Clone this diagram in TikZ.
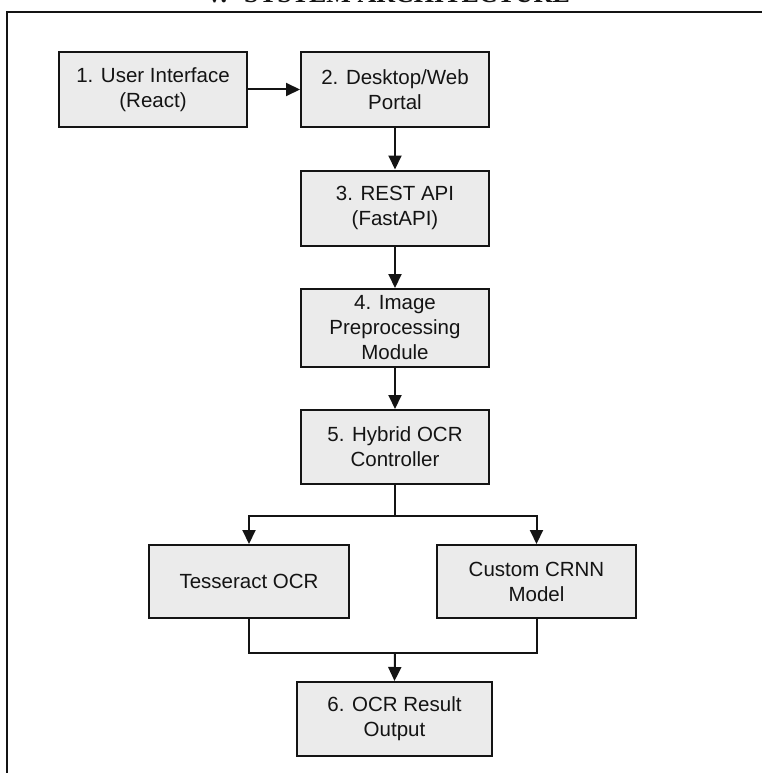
\documentclass[tikz,border=0pt]{standalone}
\usepackage{fontspec}
\setmainfont{Liberation Sans}
\newfontfamily\titlefont{Liberation Serif}
\usetikzlibrary{arrows.meta}
\definecolor{boxfill}{RGB}{235,235,235}
\definecolor{ink}{RGB}{20,20,20}
\begin{document}
\begin{tikzpicture}[x=1pt,y=-1pt,
  stagebox/.style={draw=ink, line width=2pt, fill=boxfill, align=center,
    inner sep=0pt, font=\fontsize{20.5}{25}\selectfont, text=ink},
  conn/.style={draw=ink, line width=2pt},
  arr/.style={conn, -{Triangle[length=14pt,width=13pt]}}]
\useasboundingbox (0,0) rectangle (761,773);
% cut-off title
\node[anchor=base west, inner sep=0pt, text=ink, font=\titlefont\bfseries\fontsize{26}{30}\selectfont] (title) at (205,3) {V.\hspace{17pt}SYSTEM ARCHITECTURE};
% frame
\coordinate (frTR) at (765,12);
\coordinate (frTL) at (7,12);
\coordinate (frBL) at (7,780);
\draw[conn, line join=miter] (frTR) -- (frTL) -- (frBL);
% boxes
\node[stagebox, minimum width=188pt, minimum height=75pt] (b1) at (153,89.5) {1. User Interface\\(React)};
\node[stagebox, minimum width=188pt, minimum height=75pt] (b2) at (395,89.5) {2. Desktop/Web\\Portal};
\node[stagebox, minimum width=188pt, minimum height=75pt] (b3) at (395,208) {3. REST API\\(FastAPI)};
\node[stagebox, minimum width=188pt, minimum height=78pt] (b4) at (395,328) {4. Image\\Preprocessing\\Module};
\node[stagebox, minimum width=188pt, minimum height=74pt] (b5) at (395,447) {5. Hybrid OCR\\Controller};
\node[stagebox, minimum width=200pt, minimum height=73pt] (t) at (249,581.5) {Tesseract OCR};
\node[stagebox, minimum width=199pt, minimum height=73pt] (c) at (536.5,581.5) {Custom CRNN\\Model};
\node[stagebox, minimum width=195pt, minimum height=74pt] (b6) at (394.5,719) {6. OCR Result\\Output};
% connectors
\draw[arr] (b1) -- (b2);
\draw[arr] (b2) -- (b3);
\draw[arr] (b3) -- (b4);
\draw[arr] (b4) -- (b5);
\coordinate (split) at (395,516);
\coordinate (merge) at (395,653);
\draw[conn] (b5.south) -- (split);
\draw[arr] (split) -| (t.north);
\draw[arr] (split) -| (c.north);
\draw[conn] (t.south) |- (merge);
\draw[conn] (c.south) |- (merge);
\draw[arr] (merge) -- (b6.north);
\end{tikzpicture}
\end{document}
